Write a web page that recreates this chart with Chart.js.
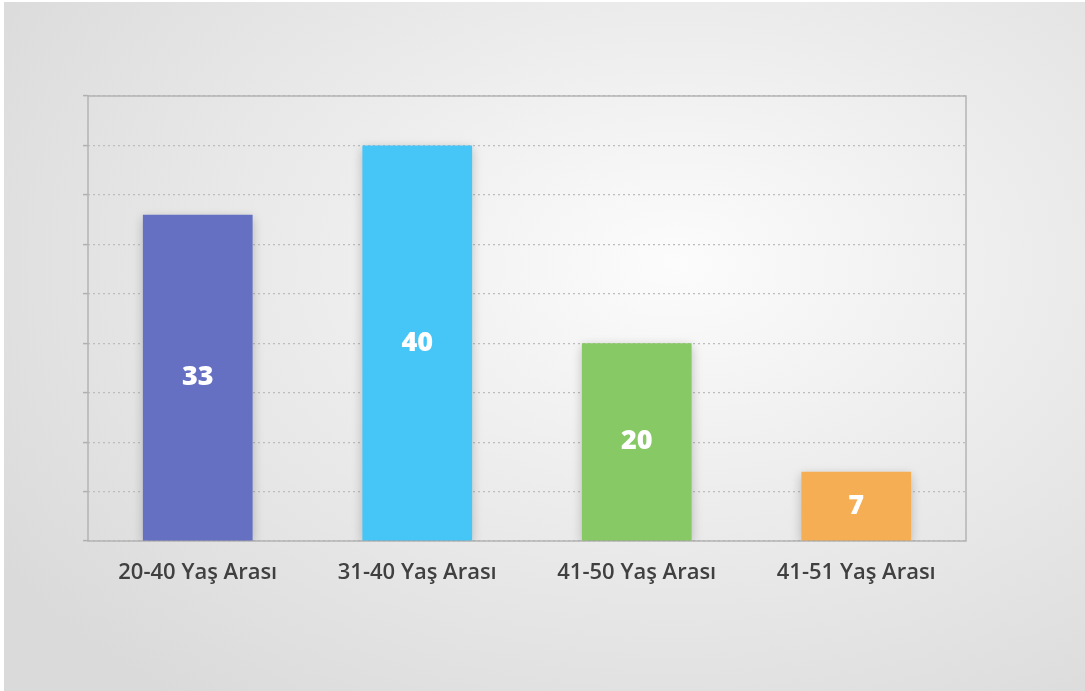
<!DOCTYPE html>
<html>
<head>
<meta charset="utf-8">
<script src="https://cdn.jsdelivr.net/npm/chart.js@4"></script>
<style>
  html, body { margin: 0; padding: 0; background: #fff; }
  #wrap {
    position: absolute; left: 4px; top: 2px; width: 1081px; height: 689px;
    background: radial-gradient(ellipse 75% 80% at 62% 38%, #fcfcfc 0%, #ececec 45%, #dadada 100%);
  }
  canvas { position: absolute; left: -4px; top: -2px; }
</style>
</head>
<body>
<div id="wrap"><canvas id="chart" width="1085" height="691"></canvas></div>
<script>
// age group results
const categories = ["20-40 Yaş Arası", "31-40 Yaş Arası", "41-50 Yaş Arası", "41-51 Yaş Arası"];
const values = [33, 40, 20, 7];
const barColors = ["#6670c3", "#46c6f7", "#87c964", "#f5ae53"];

// box around plot area, shadow on bars, value labels
const extras = {
  id: "extras",
  beforeDatasetsDraw(chart) {
    const { ctx, chartArea: a } = chart;
    ctx.save();
    ctx.strokeStyle = "#b4b4b4";
    ctx.lineWidth = 1.5;
    ctx.strokeRect(a.left, a.top, a.right - a.left, a.bottom - a.top);
    ctx.restore();
  },
  beforeDatasetDraw(chart) {
    const ctx = chart.ctx;
    ctx.save();
    ctx.shadowColor = "rgba(0,0,0,0.22)";
    ctx.shadowBlur = 10;
    ctx.shadowOffsetY = 3;
  },
  afterDatasetDraw(chart) {
    chart.ctx.restore();
  },
  afterDatasetsDraw(chart) {
    const ctx = chart.ctx;
    const meta = chart.getDatasetMeta(0);
    ctx.save();
    ctx.fillStyle = "#fff";
    ctx.font = "800 27px 'Open Sans'";
    ctx.textAlign = "center";
    ctx.textBaseline = "middle";
    meta.data.forEach((bar, i) => {
      ctx.fillText(values[i], bar.x, (bar.y + bar.base) / 2);
    });
    ctx.restore();
  }
};

new Chart(document.getElementById("chart"), {
  type: "bar",
  data: {
    labels: categories,
    datasets: [{
      data: values,
      backgroundColor: barColors,
      borderWidth: 0,
      categoryPercentage: 1,
      barPercentage: 0.5
    }]
  },
  options: {
    responsive: false,
    animation: false,
    layout: { padding: { left: 0, top: 96, right: 119, bottom: 0 } },
    plugins: { legend: { display: false }, tooltip: { enabled: false } },
    scales: {
      x: {
        grid: { display: false },
        border: { display: false },
        ticks: { color: "#404040", font: { family: "'Open Sans'", size: 22, weight: "600" }, padding: 11 },
        afterFit: s => { s.height = 150; }
      },
      y: {
        min: 0,
        max: 45,
        ticks: { display: false, stepSize: 5 },
        grid: { color: "#bdbdbd", lineWidth: 1.2, tickColor: "#b0b0b0", tickLength: 5, tickWidth: 1.5 },
        border: { display: false, dash: [2, 3] },
        afterFit: s => { s.width = 88; }
      }
    }
  },
  plugins: [extras]
});
</script>
</body>
</html>
